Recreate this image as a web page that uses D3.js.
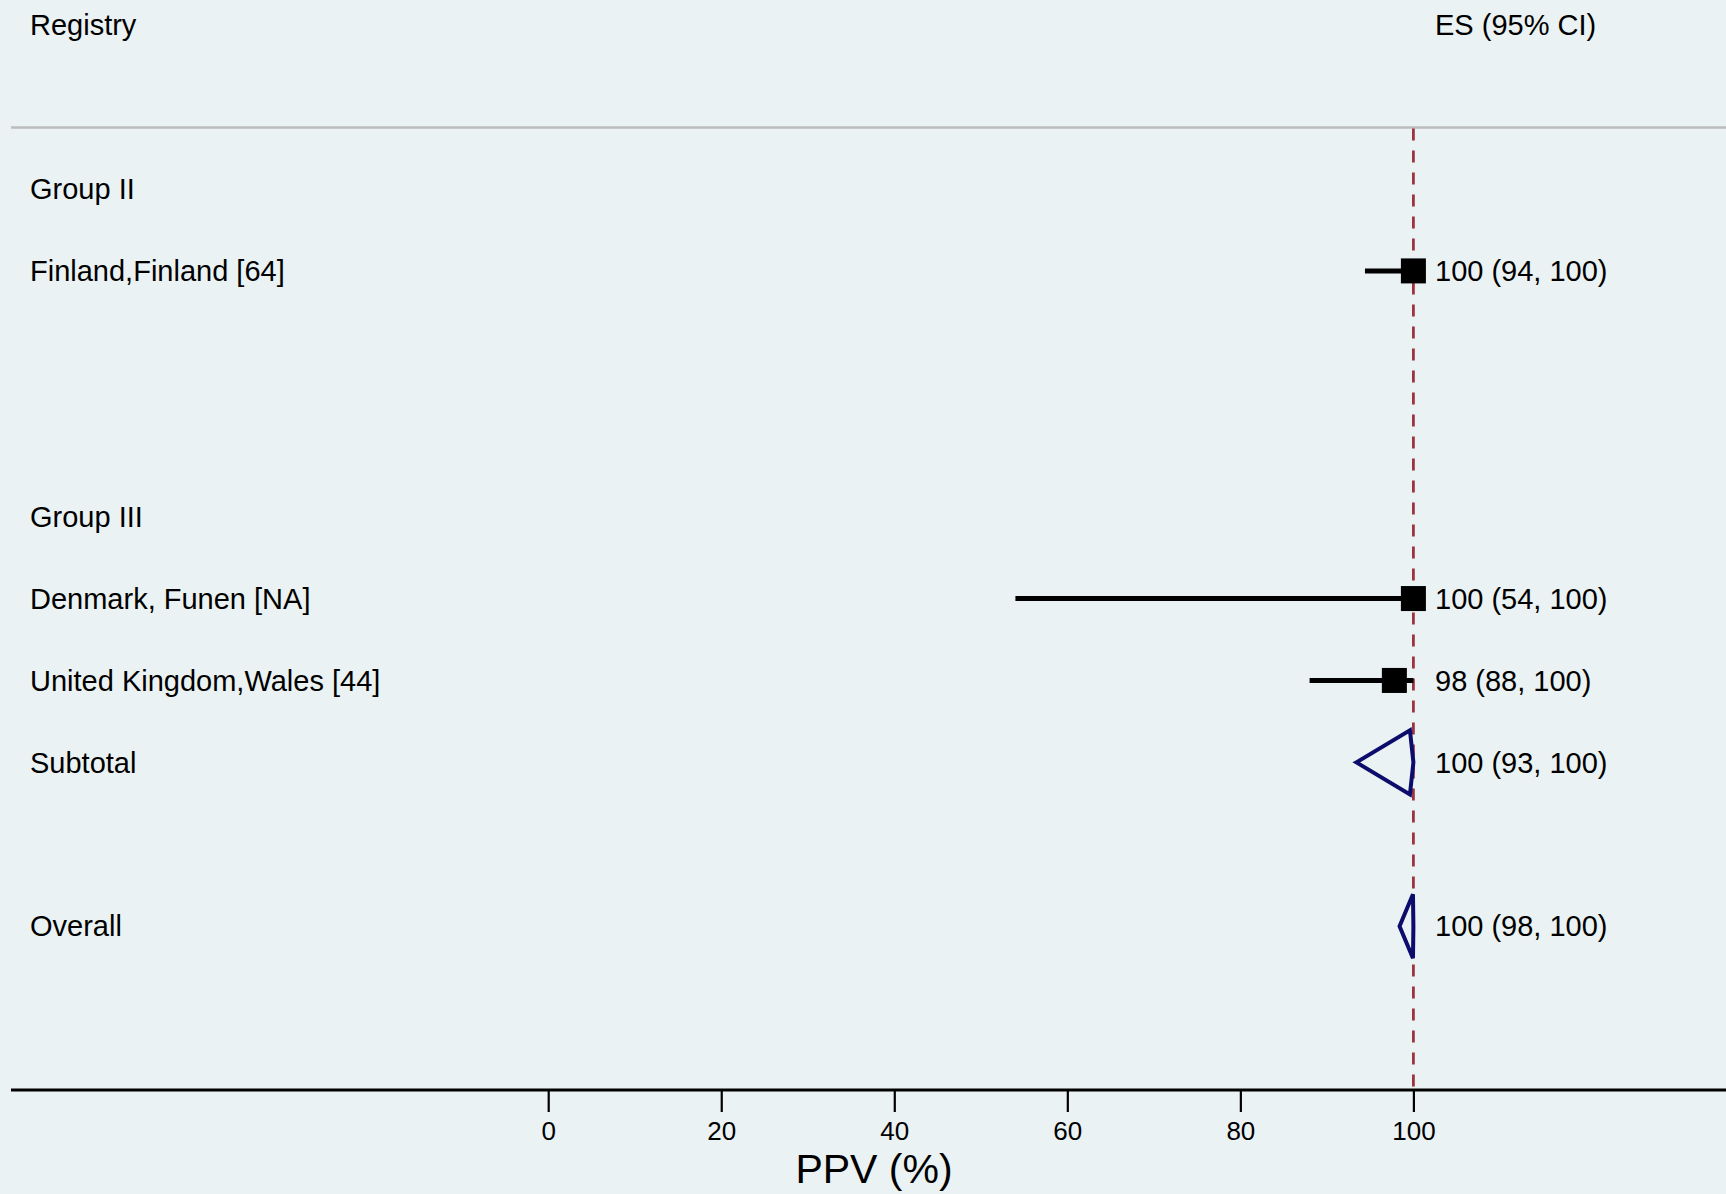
<!DOCTYPE html>
<html>
<head>
<meta charset="utf-8">
<script src="https://cdn.jsdelivr.net/npm/d3@7"></script>
<style>
  html, body { margin: 0; padding: 0; background: #EAF2F3; }
  svg { display: block; }
  text { font-family: "Liberation Sans", Arial, Helvetica, sans-serif; fill: #000; }
</style>
</head>
<body>
<script>
// ---- data ----
const headers = ["Registry", "ES (95% CI)"];
const groupLabels = ["Group II", "Group III"];
const groupRows = [0, 4];
const studyNames = ["Finland,Finland [64]", "Denmark, Funen [NA]", "United Kingdom,Wales [44]"];
const studyRows = [1, 5, 6];
const studyES = [100, 100, 97.8];
const studyLo = [94.4, 54.0, 88.0];
const studyHi = [100, 100, 100];
const studyText = ["100 (94, 100)", "100 (54, 100)", "98 (88, 100)"];
const pooledNames = ["Subtotal", "Overall"];
const pooledRows = [7, 9];
const pooledES = [99.6, 99.95];
const pooledLo = [93.4, 98.4];
const pooledHi = [100, 100];
const pooledText = ["100 (93, 100)", "100 (98, 100)"];
const nullValue = 100;
const xTicks = [0, 20, 40, 60, 80, 100];
const xTitle = "PPV (%)";

// ---- layout ----
const W = 1726, H = 1194;
const svg = d3.select("body").append("svg").attr("width", W).attr("height", H);
svg.append("rect").attr("width", W).attr("height", H).attr("fill", "#EAF2F3");

const x = d3.scaleLinear().domain([0, 100]).range([548.2, 1413.4]);
const y = d3.scaleLinear().domain([0, 11]).range([189, 1090]);
const fs = 29;
const labelX = 30, esX = 1435;

// header
svg.append("text").attr("x", labelX).attr("y", y(-2.0)).attr("dy", "0.35em")
  .style("font-size", fs + "px").text(headers[0]);
svg.append("text").attr("x", esX).attr("y", y(-2.0)).attr("dy", "0.35em")
  .style("font-size", fs + "px").text(headers[1]);

// gray separator
svg.append("line").attr("x1", 11).attr("x2", W).attr("y1", y(-0.75)).attr("y2", y(-0.75))
  .attr("stroke", "#bdbdbd").attr("stroke-width", 2.5);

// null line
svg.append("line").attr("x1", x(nullValue)).attr("x2", x(nullValue))
  .attr("y1", y(-0.75) + 1).attr("y2", y(11))
  .attr("stroke", "#9b3340").attr("stroke-width", 2.8).attr("stroke-dasharray", "12,10");

// group labels
svg.selectAll("text.group").data(groupLabels).enter().append("text")
  .attr("class", "group").attr("x", labelX).attr("y", (d, i) => y(groupRows[i]))
  .attr("dy", "0.35em").style("font-size", fs + "px").text(d => d);

// studies
const studies = studyNames.map((n, i) => ({ n, r: studyRows[i], es: studyES[i], lo: studyLo[i], hi: studyHi[i], t: studyText[i] }));
const sg = svg.selectAll("g.study").data(studies).enter().append("g").attr("class", "study");
sg.append("text").attr("x", labelX).attr("y", d => y(d.r)).attr("dy", "0.35em")
  .style("font-size", fs + "px").text(d => d.n);
sg.append("line").attr("x1", d => x(d.lo)).attr("x2", d => x(d.hi))
  .attr("y1", d => y(d.r)).attr("y2", d => y(d.r))
  .attr("stroke", "#000").attr("stroke-width", 5);
const sq = 25;
sg.append("rect").attr("x", d => x(d.es) - sq / 2).attr("y", d => y(d.r) - sq / 2)
  .attr("width", sq).attr("height", sq).attr("fill", "#000");
sg.append("text").attr("x", esX).attr("y", d => y(d.r)).attr("dy", "0.35em")
  .style("font-size", fs + "px").text(d => d.t);

// pooled
const pooled = pooledNames.map((n, i) => ({ n, r: pooledRows[i], es: pooledES[i], lo: pooledLo[i], hi: pooledHi[i], t: pooledText[i] }));
const pg = svg.selectAll("g.pooled").data(pooled).enter().append("g").attr("class", "pooled");
pg.append("text").attr("x", labelX).attr("y", d => y(d.r)).attr("dy", "0.35em")
  .style("font-size", fs + "px").text(d => d.n);
const dh = 32;
pg.append("path").attr("d", d => {
  const cy = y(d.r);
  return `M${x(d.lo)},${cy} L${x(d.es)},${cy - dh} L${x(d.hi)},${cy} L${x(d.es)},${cy + dh} Z`;
}).attr("fill", "none").attr("stroke", "#0c0c6c").attr("stroke-width", 4).attr("stroke-linejoin", "miter");
pg.append("text").attr("x", esX).attr("y", d => y(d.r)).attr("dy", "0.35em")
  .style("font-size", fs + "px").text(d => d.t);

// axis
const axisG = svg.append("g").attr("transform", `translate(0,${y(11)})`);
axisG.append("line").attr("x1", 11).attr("x2", W).attr("y1", 0).attr("y2", 0)
  .attr("stroke", "#000").attr("stroke-width", 3);
const ax = d3.axisBottom(x).tickValues(xTicks).tickSize(22).tickPadding(10).tickFormat(d3.format("d"));
const a = axisG.append("g").call(ax);
a.select(".domain").remove();
a.selectAll(".tick line").attr("stroke", "#000").attr("stroke-width", 2.2);
a.selectAll(".tick text").style("font-size", "26px").style("font-family", "'Liberation Sans', Arial, sans-serif").attr("fill", "#000");

svg.append("text").attr("x", 874).attr("y", 1183).attr("text-anchor", "middle")
  .style("font-size", "41px").text(xTitle);
</script>
</body>
</html>
